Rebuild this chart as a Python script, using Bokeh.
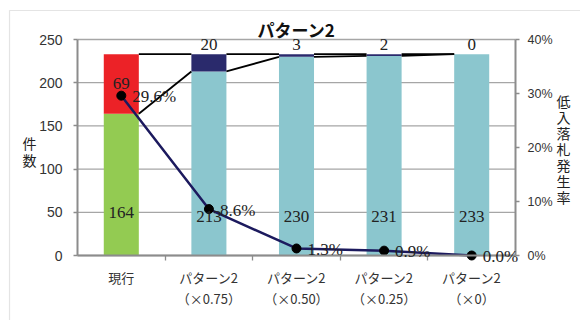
from bokeh.plotting import figure
from bokeh.models import (Range1d, LinearAxis, FixedTicker, PrintfTickFormatter,
                          ColumnDataSource, LabelSet, Label, BoxAnnotation)
from bokeh.embed import file_html
from bokeh.resources import INLINE

# ---- data ----
categories = ["現行", "パターン2\n（×0.75）", "パターン2\n（×0.50）",
              "パターン2\n（×0.25）", "パターン2\n（×0）"]
lower = [164, 213, 230, 231, 233]      # 下段（現行: 低入札以外 / パターン: 通常落札）
upper = [69, 20, 3, 2, 0]              # 上段（低入落札件数）
rate = [29.6, 8.6, 1.3, 0.9, 0.0]      # 低入落札発生率 (%)
left_ticks = [0, 50, 100, 150, 200, 250]
right_ticks = [0, 10, 20, 30, 40]
title_text = "パターン2"
y_title = "件数"
y2_title = "低入落札発生率"

# ---- layout (page pixels) ----
W, H = 580, 320
PX_L, PX_R, PX_T, PX_B = 77, 515, 39, 255          # plot area edges
n = len(categories)
cat_px = (PX_R - PX_L) / n                          # px per category
val_px = (PX_B - PX_T) / left_ticks[-1]              # px per count
rate_px = (PX_B - PX_T) / right_ticks[-1]            # px per percent


def xd(px):
    return 0.5 + (px - PX_L) / cat_px


def yd(py):
    return (PX_B - py) / val_px


# ---- styles ----
LAT = "Liberation Sans"
JP = "Noto Sans CJK JP"
GREEN, RED, LBLUE, NAVY = "#93CB52", "#EC2227", "#8BC6CE", "#2A2A6C"
AXIS_C, GRID_C = "#8C8C8C", "#A6A6A6"
TXT = "#222222"
BAR_W = 0.4

x = list(range(1, n + 1))
total = [a + b for a, b in zip(lower, upper)]

p = figure(width=W, height=H, x_range=Range1d(xd(0), xd(W)),
           y_range=Range1d(yd(H), yd(0)), output_backend="svg",
           toolbar_location=None, min_border=0)
p.outline_line_color = None
p.background_fill_color = "white"
p.border_fill_color = "white"
p.extra_y_ranges = {"rate": Range1d(-(H - PX_B) / rate_px, PX_B / rate_px)}
p.grid.visible = False

# chart area border
p.add_layout(BoxAnnotation(left=xd(9), top=yd(10), right=xd(W + 50), bottom=yd(H + 50),
                           fill_color=None, line_color=GRID_C, line_width=1.2,
                           level="underlay"))

# horizontal gridlines across the plot area
p.segment(x0=0.5, x1=n + 0.5, y0=left_ticks, y1=left_ticks,
          line_color=GRID_C, line_width=1.3)

# stacked bars
src = ColumnDataSource(dict(
    x=x, lower=lower, total=total,
    lc=[GREEN] + [LBLUE] * (n - 1),
    uc=[RED] + [NAVY] * (n - 1)))
p.vbar(x="x", bottom=0, top="lower", width=BAR_W, fill_color="lc",
       line_color=None, source=src)
p.vbar(x="x", bottom="lower", top="total", width=BAR_W, fill_color="uc",
       line_color=None, source=src)

# series lines between bars
p.segment(x0=[v + BAR_W / 2 for v in x[:-1]], y0=lower[:-1],
          x1=[v - BAR_W / 2 for v in x[1:]], y1=lower[1:],
          line_color="black", line_width=1.8)
p.segment(x0=[v + BAR_W / 2 for v in x[:-1]], y0=total[:-1],
          x1=[v - BAR_W / 2 for v in x[1:]], y1=total[1:],
          line_color="black", line_width=1.8)

# rate line
p.line(x, rate, y_range_name="rate", line_color="#1C1A5E", line_width=2.5)
p.scatter(x, rate, y_range_name="rate", size=9, fill_color="black",
          line_color="black")

# axes (fixed inside the canvas)
ya = p.yaxis[0]
ya.fixed_location = 0.5
ya.ticker = FixedTicker(ticks=left_ticks)
ya.bounds = (0, left_ticks[-1])
ya.axis_line_color = AXIS_C
ya.axis_line_width = 2
ya.major_tick_line_color = AXIS_C
ya.major_tick_line_width = 1.3
ya.major_tick_out = 4
ya.major_tick_in = 0
ya.minor_tick_line_color = None
ya.major_label_standoff = 11
ya.major_label_text_font = LAT
ya.major_label_text_font_size = "14px"
ya.major_label_text_color = "#333333"

ra = LinearAxis(y_range_name="rate", ticker=FixedTicker(ticks=right_ticks),
                formatter=PrintfTickFormatter(format="%d%%"),
                bounds=(0, right_ticks[-1]), fixed_location=n + 0.5)
ra.axis_line_color = AXIS_C
ra.axis_line_width = 2
ra.major_tick_line_color = AXIS_C
ra.major_tick_line_width = 1.3
ra.major_tick_out = 4
ra.major_tick_in = 0
ra.minor_tick_line_color = None
ra.major_label_standoff = 8
ra.major_label_text_font = LAT
ra.major_label_text_font_size = "12.5px"
ra.major_label_text_color = "#333333"
p.add_layout(ra, "right")

xa = p.xaxis[0]
xa.fixed_location = 0
xa.bounds = (0.5, n + 0.5)
xa.ticker = FixedTicker(ticks=x, minor_ticks=[v + 0.5 for v in x[:-1]])
xa.major_label_overrides = {v: c for v, c in zip(x, categories)}
xa.axis_line_color = AXIS_C
xa.axis_line_width = 2
xa.major_tick_line_color = None
xa.major_tick_out = 0
xa.major_tick_in = 0
xa.minor_tick_line_color = AXIS_C
xa.minor_tick_line_width = 1.3
xa.minor_tick_out = 5
xa.minor_tick_in = 0
xa.major_label_standoff = 7
xa.major_label_text_font = JP
xa.major_label_text_font_size = "13px"
xa.major_label_text_line_height = 1.12
xa.major_label_text_color = "#333333"

# data labels
lsrc = ColumnDataSource(dict(
    x=x, y=[yd(212) if i == 0 else yd(216) for i in range(n)],
    t=[str(v) for v in lower]))
p.add_layout(LabelSet(x="x", y="y", text="t", source=lsrc, text_align="center",
                      text_baseline="middle", text_font=LAT,
                      text_font_size="17px", text_color=TXT))
usrc = ColumnDataSource(dict(
    x=x, y=[lower[i] + upper[i] / 2 if i == 0 else yd(44) for i in range(n)],
    t=[str(v) for v in upper]))
p.add_layout(LabelSet(x="x", y="y", text="t", source=usrc, text_align="center",
                      text_baseline="middle", text_font=LAT,
                      text_font_size="17px", text_color=TXT))
rsrc = ColumnDataSource(dict(x=x, y=rate, t=[f"{r:.1f}%" for r in rate]))
p.add_layout(LabelSet(x="x", y="y", text="t", source=rsrc, y_range_name="rate",
                      x_offset=11, y_offset=-1, text_align="left",
                      text_baseline="middle", text_font=LAT,
                      text_font_size="17px", text_color=TXT))

# titles
p.add_layout(Label(x=(n + 1) / 2, y=yd(28.5), text=title_text, text_align="center",
                   text_baseline="middle", text_font=JP, text_font_style="bold",
                   text_font_size="17px", text_color="#111111"))
p.add_layout(Label(x=xd(29), y=yd(151), text="\n".join(y_title), text_align="center",
                   text_baseline="middle", text_font=JP, text_font_size="14px",
                   text_line_height=0.84, text_color="#222222"))
p.add_layout(Label(x=xd(563), y=yd(148), text="\n".join(y2_title), text_align="center",
                   text_baseline="middle", text_font=JP, text_font_size="14px",
                   text_line_height=0.8, text_color="#222222"))

open("out.html", "w").write(file_html(p, INLINE))
